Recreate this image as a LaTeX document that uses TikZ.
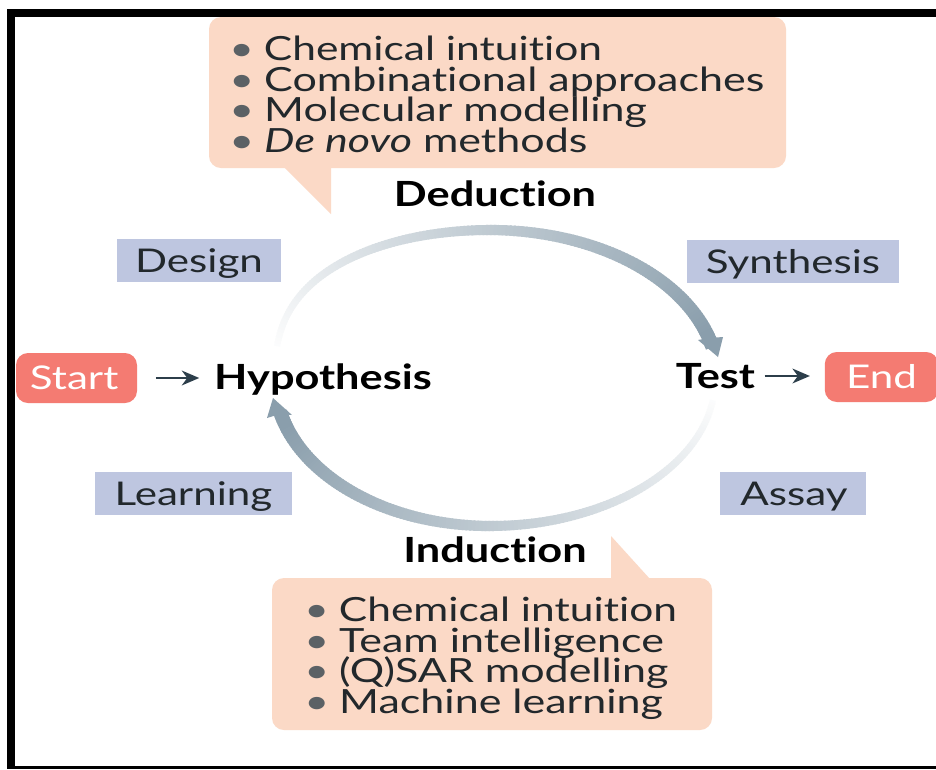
\documentclass[tikz,border=0pt]{standalone}
\usepackage{fontspec}
\usetikzlibrary{arrows.meta}
\setmainfont{Lato}[FakeStretch=1.29,Ligatures=NoCommon]
\newfontfamily\liststretch{Lato}[FakeStretch=1.275,Ligatures=NoCommon]
\newfontfamily\boldstretch{Lato Bold}[FakeStretch=1.25,Ligatures=NoCommon]
\definecolor{peach}{HTML}{FBD9C6}
\definecolor{tagblue}{HTML}{BEC6E0}
\definecolor{tagred}{HTML}{F47B72}
\definecolor{ink}{HTML}{22282C}
\definecolor{bulletgrey}{HTML}{5B6165}
\definecolor{arcgrey}{HTML}{8A9EAC}
\definecolor{arrowdark}{HTML}{2C3E4A}
\newcommand{\bul}{\textcolor{bulletgrey}{•}\hspace{0.3em}}
\tikzset{
  x=0.75pt,y=-0.75pt,
  tag/.style={fill=tagblue,text=ink,inner sep=0pt,minimum height=32.25pt,text height=18pt,text depth=0pt,font=\fontsize{24.5}{26}\selectfont},
  term/.style={fill=tagred,text=white,rounded corners=9pt,inner sep=0pt,minimum height=37.5pt,text height=16.5pt,text depth=0pt,font=\fontsize{24.5}{26}\selectfont},
  stage/.style={text=black,inner sep=0pt,font=\boldstretch\fontsize{26}{28}\selectfont},
  listing/.style={text=ink,inner sep=0pt,align=left,anchor=north west,font={\fontsize{25}{22.8}\selectfont\lineskiplimit=-100pt\relax}},
  bubble/.style={fill=peach,rounded corners=9pt},
  tailshape/.style={fill=peach},
  flow/.style={draw=arrowdark,line width=2.1pt,-{Stealth[length=13pt,width=11pt,inset=4pt]}}
}
\begin{document}
\begin{tikzpicture}
\useasboundingbox (0,0) rectangle (936,769);
\fill[white] (0,0) rectangle (936,769);
% frame
\fill[black] (7,9) rectangle (936,17);
\fill[black] (7,9) rectangle (15,769);
\fill[black] (7,766) rectangle (936,769);
% callouts
\fill[bubble] (209,17) rectangle (786,168);
\fill[tailshape] (284,167) -- (331,167) -- (331,214) -- cycle;
\fill[bubble] (272,578) rectangle (712,730);
\fill[tailshape] (611,579) -- (611,536) -- (650,579) -- cycle;
% upper arc
\foreach \i in {0,...,158}{
  \pgfmathsetmacro{\ta}{172-\i}
  \pgfmathsetmacro{\tb}{172-\i-1.4}
  \pgfmathsetmacro{\rxa}{\ta>90?215:228}
  \pgfmathsetmacro{\rxb}{\tb>90?215:228}
  \pgfmathsetmacro{\pa}{\ta>90?0.76:1}
  \pgfmathsetmacro{\pb}{\tb>90?0.76:1}
  \pgfmathsetmacro{\mixv}{min(100,3+100*(\i/158))}
  \pgfmathsetmacro{\wid}{0.75*(6+8*\i/158)}
  \draw[line width=\wid pt,color=arcgrey!\mixv!white] ({490+\rxa*cos(\ta)},{380-150*sin(\ta)^\pa}) -- ({490+\rxb*cos(\tb)},{380-150*sin(\tb)^\pb});
}
\fill[arcgrey] (718,357) -- (698,340) -- (709,338) -- (723,337) -- cycle;
% lower arc
\foreach \i in {0,...,158}{
  \pgfmathsetmacro{\ta}{-8-\i}
  \pgfmathsetmacro{\tb}{-8-\i-1.4}
  \pgfmathsetmacro{\rxa}{\ta<-90?215:225}
  \pgfmathsetmacro{\rxb}{\tb<-90?215:225}
  \pgfmathsetmacro{\mixv}{min(100,3+100*(\i/158))}
  \pgfmathsetmacro{\wid}{0.75*(6+8*\i/158)}
  \draw[line width=\wid pt,color=arcgrey!\mixv!white] ({490+\rxa*cos(\ta)},{380-146*sin(\ta)}) -- ({490+\rxb*cos(\tb)},{380-146*sin(\tb)});
}
\fill[arcgrey] (273,398) -- (292,415) -- (280,414) -- (267,418) -- cycle;
% list texts
\node[listing] (dedlist) at (229,36) {\liststretch\bul Chemical intuition\\\bul Combinational approaches\\\bul Molecular modelling\\\bul \textit{De novo} methods};
\node[listing] (indlist) at (304,597) {\liststretch\bul Chemical intuition\\\bul Team intelligence\\\bul (Q)SAR modelling\\\bul Machine learning};
% tags
\node[tag,minimum width=123pt] (design) at (199,260.5) {Design};
\node[tag,minimum width=159pt] (synthesis) at (793,261) {Synthesis};
\node[tag,minimum width=147.75pt] (learning) at (193.5,493.5) {Learning};
\node[tag,minimum width=109.5pt] (assay) at (793,493.5) {\hspace*{1.5pt}Assay};
% terminals
\node[term,minimum width=90.75pt] (start) at (76.5,378) {Start\hspace*{3.5pt}};
\node[term,minimum width=85pt] (endbox) at (881.5,377) {End};
% stages
\node[stage] (deduction) at (495,194) {Deduction};
\node[stage] (induction) at (495,550) {Induction};
\node[stage] (hypothesis) at (323,379.5) {Hypothesis};
\node[stage] (testnode) at (715.5,376) {Test};
% connectors
\draw[flow,shorten <=14pt,shorten >=11pt] (start.east) -- (start.east -| hypothesis.west);
\draw[flow,shorten <=7pt,shorten >=11pt] (testnode.east) -- (testnode.east -| endbox.west);
\end{tikzpicture}
\end{document}
